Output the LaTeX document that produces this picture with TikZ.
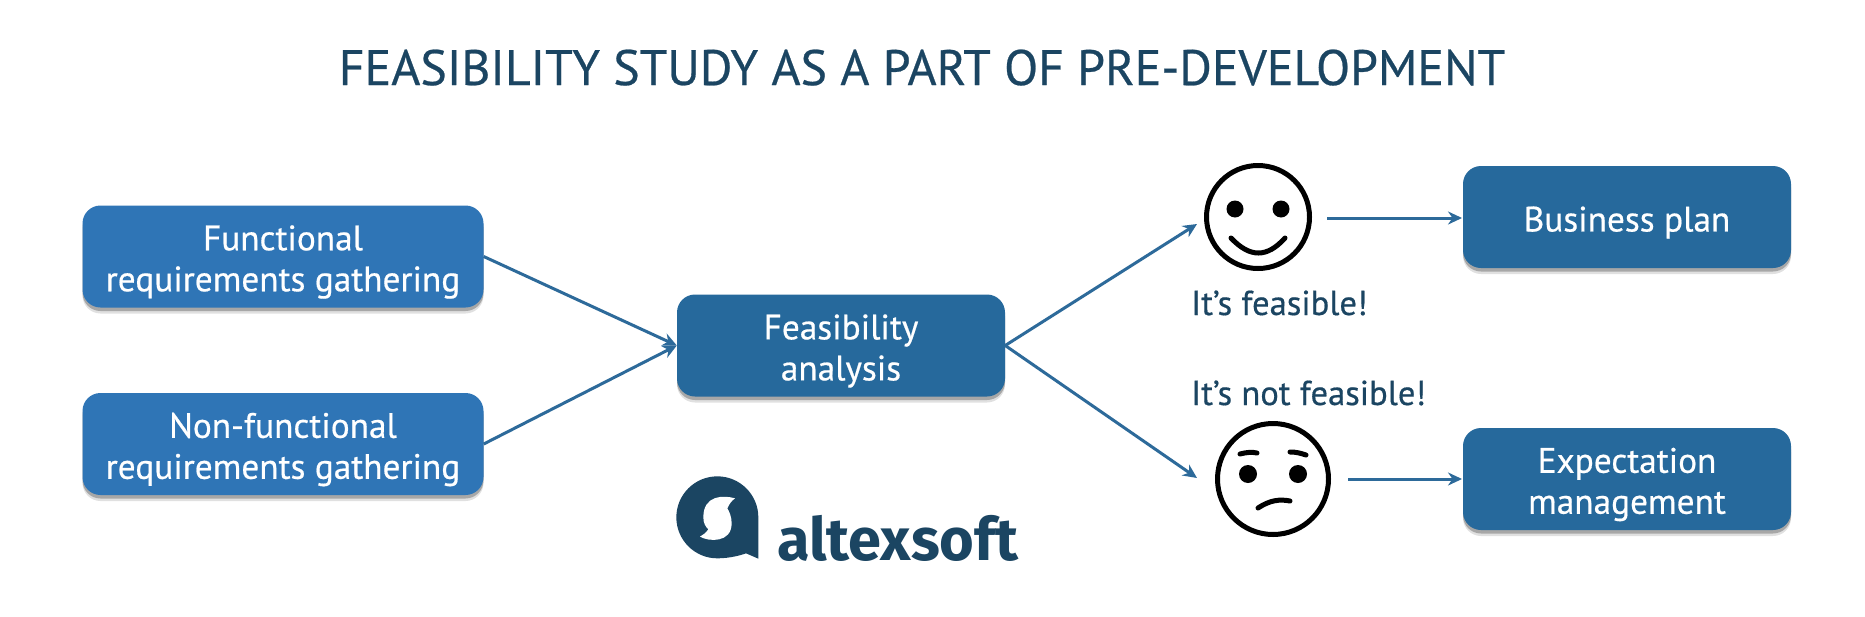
\documentclass[tikz,border=0pt]{standalone}
\usepackage{fontspec}
\setmainfont[FakeBold=0.5]{PT Sans}
\newfontfamily\logofont{Fira Sans}
\usetikzlibrary{shadows,arrows.meta}
\definecolor{boxa}{HTML}{2F75B6}
\definecolor{boxb}{HTML}{26699C}
\definecolor{ink}{HTML}{1B4562}
\definecolor{arrowc}{HTML}{2D6A9A}
\newcommand{\lowered}[1]{\raisebox{-5.5pt}[\height][\depth]{#1}}
\tikzset{
  x=1pt,y=-1pt,
  stepbox/.style={rounded corners=18pt,minimum height=102pt,align=center,text=white,
    font=\fontsize{35.3}{41}\selectfont,inner sep=0pt,
    drop shadow={shadow xshift=0pt,shadow yshift=-6pt,opacity=.12,fill=black},
    drop shadow={shadow xshift=0pt,shadow yshift=-3.5pt,opacity=.25,fill=black}},
  boxleft/.style={stepbox,fill=boxa,minimum width=401pt},
  boxdark/.style={stepbox,fill=boxb,minimum width=328pt},
  oneline/.style={execute at begin node={\rule{0pt}{36pt}}},
  link/.style={draw=arrowc,line width=3pt,-{Stealth[length=14pt,width=13pt]}},
  face/.style={circle,draw=black,line width=5pt,fill=white,inner sep=0pt},
  feat/.style={line width=5pt,line cap=round,draw=black},
  saying/.style={text=ink,anchor=base west,font=\fontsize{34.6}{40}\selectfont,inner sep=0pt},
}
\begin{document}
\begin{tikzpicture}
\useasboundingbox[fill=white] (0,0) rectangle (1865,616);
\node[text=ink,font=\fontsize{49.8}{58}\selectfont,inner sep=0pt,anchor=base] (title) at (922,85) {FEASIBILITY STUDY AS A PART OF PRE-DEVELOPMENT};
\node[boxleft] (fr) at (283,256.5) {\lowered{Functional}\\\lowered{requirements gathering}};
\node[boxleft] (nfr) at (283,444) {\lowered{Non-functional}\\\lowered{requirements gathering}};
\node[boxdark] (fa) at (841,345.5) {\lowered{Feasibility}\\\lowered{analysis}};
\node[boxdark,oneline] (bp) at (1627,217) {Business plan};
\node[boxdark] (em) at (1627,479) {\lowered{Expectation}\\\lowered{management}};
\node[face,minimum size=103pt] (happy) at (1258,217) {};
\node[face,minimum size=111pt] (sad) at (1273,479) {};
\fill (1235,209) circle (8.5pt) (1281,209) circle (8.5pt);
\draw[feat] (1231,238) .. controls (1250,258) and (1267,258) .. (1285,238);
\fill (1248,474) circle (9pt) (1298,474) circle (9pt);
\draw[feat] (1240,454) .. controls (1248,452) and (1252,452) .. (1257,453);
\draw[feat] (1290,452) .. controls (1296,452) and (1300,453) .. (1306,455);
\draw[feat] (1258,508) .. controls (1270,500) and (1280,499) .. (1290,501);
\coordinate (happyin) at (1197,224);
\coordinate (sadin) at (1197,478);
\coordinate (happyout) at (1327,218);
\coordinate (sadout) at (1348,479);
\coordinate (bpin) at (1462,218);
\coordinate (emin) at (1462,479);
\draw[link] (fr.east) -- (fa.west);
\draw[link] (nfr.east) -- (fa.west);
\draw[link] (fa.east) -- (happyin);
\draw[link] (fa.east) -- (sadin);
\draw[link] (happyout) -- (bpin);
\draw[link] (sadout) -- (emin);
\node[saying] (yes) at (1191,315) {It’s feasible!};
\node[saying] (no) at (1191,405) {It’s not feasible!};
% logo
\begin{scope}[shift={(640,440)},x=0.3333pt,y=-0.3333pt]
\fill[ink] (355,232) arc (0:-180:123) arc (180:90:123)
  .. controls (270,355) and (305,345) .. (318,340) -- (355,356) -- cycle;
\fill[white] (285,175) .. controls (250,165) and (190,165) .. (190,232)
  .. controls (190,250) and (197,260) .. (205,268)
  .. controls (198,278) and (190,285) .. (180,290)
  .. controls (205,305) and (275,310) .. (275,250)
  .. controls (275,230) and (268,215) .. (262,205)
  .. controls (268,192) and (275,182) .. (285,175) -- cycle;
\end{scope}
\node[text=ink,font=\logofont\bfseries\fontsize{59.5}{60}\selectfont,inner sep=0pt,anchor=base west] (logo) at (777,560) {altexsoft};
\end{tikzpicture}
\end{document}
